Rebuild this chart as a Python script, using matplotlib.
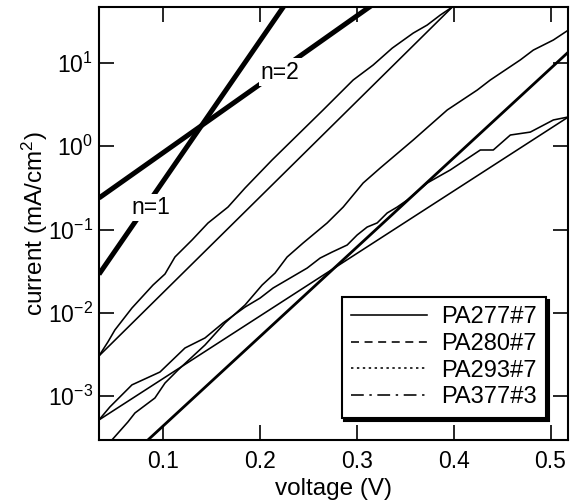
import matplotlib
matplotlib.use('Agg')
import matplotlib.pyplot as plt
from matplotlib.lines import Line2D

plt.rcParams['font.family'] = ['Liberation Sans', 'DejaVu Sans']
plt.rcParams['mathtext.fontset'] = 'custom'
plt.rcParams['mathtext.rm'] = 'Liberation Sans'
plt.rcParams['mathtext.it'] = 'Liberation Sans:italic'

# reference diode lines (thick)
v_n1 = [0.034, 0.23]
i_n1 = [0.029, 59.0]
v_n2 = [0.034, 0.32]
i_n2 = [0.239, 53.7]

# measured curves (thin, wiggly)
v_a = [0.0339, 0.0432, 0.0504, 0.0680, 0.0897, 0.1021, 0.1124, 0.1300, 0.1465,
       0.1671, 0.1847, 0.2126, 0.2653, 0.2963, 0.3169, 0.3366, 0.3583, 0.3727,
       0.3862, 0.3986, 0.405]
i_a = [3.02e-3, 4.46e-3, 6.21e-3, 1.14e-2, 2.15e-2, 2.92e-2, 4.68e-2, 7.48e-2, 0.1197,
       0.186, 0.315, 0.684, 2.73, 6.25, 9.46, 15.1, 22.9, 28.6,
       37.7, 47.1, 55.0]

v_b = [0.0339, 0.0452, 0.0680, 0.0969, 0.1227, 0.1434, 0.1620, 0.1847, 0.2002,
       0.2136, 0.2312, 0.2488, 0.2622, 0.2746, 0.2901, 0.3004, 0.3107, 0.3211,
       0.3314, 0.3417, 0.3521, 0.3727, 0.3965, 0.4275, 0.4409, 0.4585, 0.4791,
       0.5029, 0.5184]
i_b = [5.15e-4, 7.38e-4, 1.36e-3, 1.94e-3, 3.77e-3, 4.98e-3, 7.54e-3, 1.17e-2, 1.50e-2,
       1.98e-2, 2.61e-2, 3.44e-2, 4.54e-2, 5.36e-2, 6.51e-2, 8.59e-2, 0.107, 0.120,
       0.158, 0.186, 0.226, 0.362, 0.519, 0.902, 0.902, 1.365, 1.48,
       2.07, 2.25]

v_c = [0.0411, 0.0473, 0.0638, 0.0711, 0.0917, 0.1021, 0.1155, 0.1434, 0.1640,
       0.1847, 0.2023, 0.2157, 0.2281, 0.2446, 0.2694, 0.2860, 0.3066, 0.3242,
       0.3583, 0.3934, 0.4244, 0.4378, 0.4688, 0.4822, 0.5029, 0.5184]
i_c = [2.44e-4, 2.96e-4, 4.87e-4, 6.25e-4, 9.46e-4, 1.43e-3, 2.05e-3, 4.10e-3, 7.54e-3,
       1.24e-2, 2.15e-2, 3.00e-2, 4.67e-2, 6.88e-2, 0.1197, 0.186, 0.362, 0.548,
       1.19, 2.73, 4.74, 6.25, 10.9, 14.3, 18.9, 24.9]

# fits (thin, straight)
v_fa = [0.034, 0.41]
i_fa = [3.03e-3, 63.6]
v_fb = [0.0339, 0.5184]
i_fb = [5.15e-4, 2.25]
v_fc = [0.08, 0.52]
i_fc = [2.65e-4, 14.1]

samples = ['PA277#7', 'PA280#7', 'PA293#7', 'PA377#3']
styles = ['-', (0, (5, 3.5)), (0, (1.5, 2.2)), (0, (8, 3.5, 1.5, 3.5))]

fig = plt.figure(figsize=(5.76, 5.01), dpi=100)
ax = fig.add_axes([99 / 576, 1 - 440 / 501, 469 / 576, 433 / 501])

thin = 1.15
ax.plot(v_n1, i_n1, color='k', lw=3.6, solid_capstyle='butt')
ax.plot(v_n2, i_n2, color='k', lw=3.6, solid_capstyle='butt')
ax.plot(v_a, i_a, color='k', lw=thin)
ax.plot(v_b, i_b, color='k', lw=thin)
ax.plot(v_c, i_c, color='k', lw=thin)
ax.plot(v_fa, i_fa, color='k', lw=thin)
ax.plot(v_fb, i_fb, color='k', lw=thin)
ax.plot(v_fc, i_fc, color='k', lw=2.0)

ax.set_yscale('log')
ax.set_xlim(0.034, 0.518)
ax.set_ylim(2.96e-4, 47.1)

bb = dict(facecolor='white', edgecolor='none', pad=1.5)
ax.text(0.0876, 0.186, 'n=1', fontsize=16.5, ha='center', va='center', bbox=bb, zorder=5)
ax.text(0.2209, 7.8, 'n=2', fontsize=16.5, ha='center', va='center', bbox=bb, zorder=5)

ax.set_xticks([0.1, 0.2, 0.3, 0.4, 0.5])
ax.set_xticklabels(['0.1', '0.2', '0.3', '0.4', '0.5'])
ax.minorticks_off()
ax.tick_params(which='both', direction='in', top=True, right=True,
               length=11, width=1.2, labelsize=16.5)
ax.tick_params(axis='x', pad=7)
ax.tick_params(axis='y', pad=4.5)
for s in ax.spines.values():
    s.set_linewidth(1.5)

ax.set_xlabel('voltage (V)', fontsize=17.5, labelpad=4)
ax.set_ylabel('current (mA/cm$^{2}$)', fontsize=17.5, labelpad=-2)

handles = [Line2D([], [], color='k', lw=thin, linestyle=st) for st in styles]
leg = ax.legend(handles, samples, loc='lower right', bbox_to_anchor=(0.953, 0.051),
                borderaxespad=0, fontsize=17, handlelength=3.2, handletextpad=0.6,
                labelspacing=0.2, borderpad=0.4, fancybox=False,
                shadow={'ox': 2, 'oy': -2, 'color': 'black', 'alpha': 1})
leg.get_frame().set_edgecolor('black')
leg.get_frame().set_linewidth(1.5)
leg.get_frame().set_alpha(1)

plt.savefig('out.png', dpi=100)
plt.close()
